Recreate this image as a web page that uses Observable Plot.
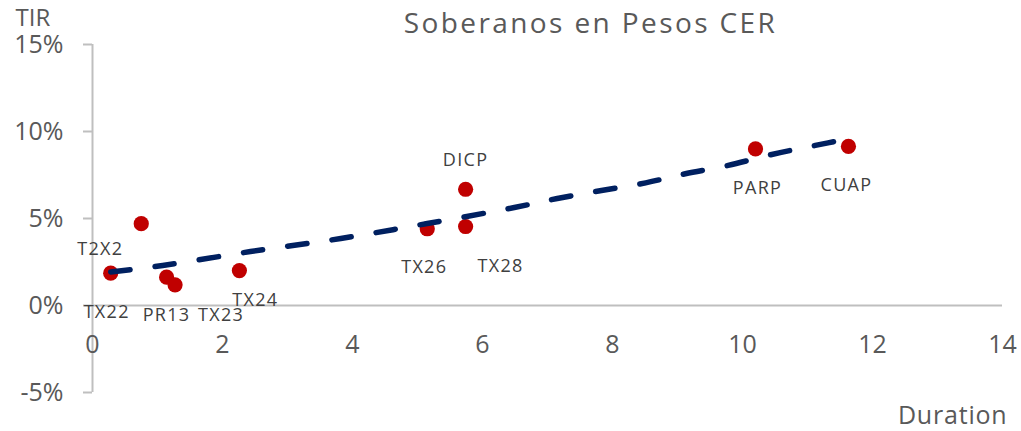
<!DOCTYPE html>
<html>
<head>
<meta charset="utf-8">
<script src="https://cdn.jsdelivr.net/npm/d3@7"></script>
<script src="https://cdn.jsdelivr.net/npm/@observablehq/plot@0.6"></script>
<style>
  html, body { margin: 0; padding: 0; background: #ffffff; }
  #chart { width: 1021px; height: 431px; }
</style>
</head>
<body>
<div id="chart"></div>
<script>
// Bonds: name, duration (years), TIR (%)
const bonds     = ["TX22", "T2X2", "PR13", "TX23", "TX24", "TX26", "DICP", "TX28", "PARP", "CUAP"];
const durations = [0.28, 0.75, 1.14, 1.27, 2.26, 5.15, 5.74, 5.74, 10.2, 11.63];
const tirs      = [1.86, 4.70, 1.63, 1.19, 2.01, 4.41, 6.68, 4.54, 9.00, 9.14];

// Trend line
const trendX = [0.28, 1.08, 2.43, 3.82, 5.15, 6.49, 7.15, 7.83, 8.51, 9.12, 9.78, 10.45, 11.12, 11.63];
const trendY = [1.93, 2.30, 3.10, 3.85, 4.71, 5.63, 6.15, 6.61, 7.05, 7.57, 8.05, 8.68, 9.20, 9.58];

// Axis ticks
const xTicks = [0, 2, 4, 6, 8, 10, 12, 14];
const yTicks = [-5, 0, 5, 10, 15];

const titleText = "Soberanos en Pesos CER";
const yTitle = "TIR";
const xTitle = "Duration";

// label placement (pixel offsets from each point), styling only
const labelOffsets = {
  TX22: [-4, 39], T2X2: [-41, 26], PR13: [0, 38], TX23: [46, 30], TX24: [16, 30],
  TX26: [-3, 38], DICP: [0, -29], TX28: [35, 40], PARP: [2, 39], CUAP: [-2, 39]
};

const points = bonds.map((name, i) => ({name, x: durations[i], y: tirs[i]}));
const trend = trendX.map((x, i) => ({x, y: trendY[i]}));

const axisGray = "#bfbfbf";
const textGray = "#595959";
const labelGray = "#404040";

const chart = Plot.plot({
  width: 1021,
  height: 431,
  marginLeft: 92,
  marginRight: 19,
  marginTop: 44,
  marginBottom: 39,
  style: {fontFamily: "'Open Sans', 'Segoe UI', sans-serif", background: "#ffffff", overflow: "visible"},
  x: {domain: [0, 14]},
  y: {domain: [-5, 15]},
  marks: [
    Plot.ruleX([0], {y1: -5, y2: 15, stroke: axisGray, strokeWidth: 2}),
    Plot.ruleY([0], {x1: 0, x2: 14, stroke: axisGray, strokeWidth: 2}),
    Plot.axisY({
      ticks: yTicks, tickSize: 9, tickPadding: 20, stroke: axisGray, strokeWidth: 2,
      fill: textGray, fontSize: 25, tickFormat: d => d + "%", label: null
    }),
    Plot.axisX({
      ticks: xTicks, tickSize: 0, tickPadding: 0, dy: -57,
      fill: textGray, fontSize: 25, label: null
    }),
    Plot.dot(points, {x: "x", y: "y", r: 7.6, fill: "#c00000", stroke: "none"}),
    Plot.line(trend, {
      x: "x", y: "y", stroke: "#002060", strokeWidth: 5.5,
      strokeDasharray: "19.5,25.2", strokeLinecap: "round", curve: "catmull-rom"
    }),
    ...points.map(p => Plot.text([p], {
      x: "x", y: "y", text: "name",
      dx: labelOffsets[p.name][0], dy: labelOffsets[p.name][1],
      fontSize: 18, fill: labelGray, textAnchor: "middle", lineAnchor: "middle"
    })),
    Plot.text([titleText], {
      frameAnchor: "top", dx: 43, dy: -12, lineAnchor: "bottom", textAnchor: "middle",
      fontSize: 28, fill: textGray
    }),
    Plot.text([yTitle], {
      frameAnchor: "top-left", dx: -77, dy: -19, lineAnchor: "bottom", textAnchor: "start",
      fontSize: 24, fill: textGray
    }),
    Plot.text([xTitle], {
      frameAnchor: "bottom-right", dx: 5, dy: 31, lineAnchor: "bottom", textAnchor: "end",
      fontSize: 25, fill: textGray
    })
  ]
});
document.getElementById("chart").appendChild(chart);

// letter spacing like the reference
d3.select(chart).selectAll("text").each(function() {
  const t = this.textContent;
  if (bonds.includes(t)) this.style.letterSpacing = "1.3px";
  else if (t === titleText) this.style.letterSpacing = "2.4px";
  else if (t === xTitle) this.style.letterSpacing = "0.8px";
});
</script>
</body>
</html>
